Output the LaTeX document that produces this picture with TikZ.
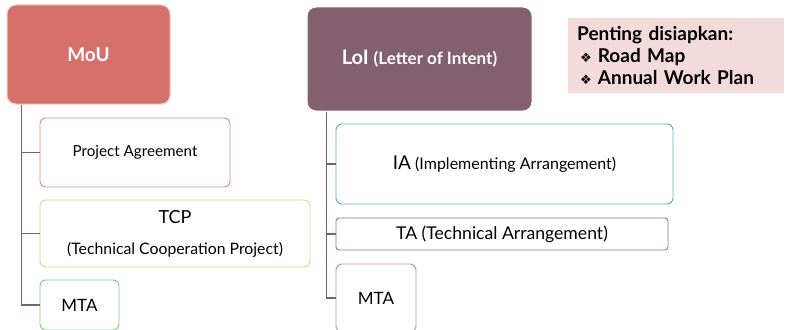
\documentclass[tikz,border=0pt]{standalone}
\usepackage{fontspec}
\setmainfont{Lato}
\newfontfamily\symfont{DejaVu Sans}
\begin{document}
\begin{tikzpicture}[x=1pt,y=-1pt,
  box/.style={draw, rounded corners=6pt, line width=0.9pt, fill=white, inner sep=0pt, align=center},
  head/.style={rounded corners=9pt, inner sep=0pt, align=center, text=white, font=\bfseries},
  conn/.style={draw=linec, line width=1.3pt}]
\definecolor{mouc}{HTML}{D5706A}
\definecolor{mouedge}{HTML}{F0C8C4}
\definecolor{loic}{HTML}{82606F}
\definecolor{linec}{HTML}{7E5E6E}
\definecolor{pac}{HTML}{E08A88}
\definecolor{tcpc}{HTML}{C9DA80}
\definecolor{mtaone}{HTML}{7FCC84}
\definecolor{iac}{HTML}{5EAABB}
\definecolor{tac}{HTML}{8A74AC}
\definecolor{mtatwo}{HTML}{B496AC}
\definecolor{notec}{HTML}{F3DBDB}
\useasboundingbox (0,0) rectangle (789,329);
\clip (0,0) rectangle (789,329);
% heads
\node[head, fill=mouc, draw=mouedge, line width=1pt, minimum width=163pt, minimum height=99pt, font=\bfseries\fontsize{19}{22}\selectfont] (mou) at (88.5,54.5) {MoU};
\node[head, fill=loic, draw=white, line width=1pt, minimum width=225pt, minimum height=104pt, font=\bfseries\fontsize{20}{22}\selectfont] (loi) at (419.5,59) {LoI {\fontsize{17}{20}\selectfont (Letter of Intent)}};
% left children
\node[box, draw=pac, minimum width=190pt, minimum height=69pt, font=\fontsize{15.2}{18}\selectfont] (pa) at (135,152.5) {Project Agreement};
\node[box, draw=tcpc, minimum width=270pt, minimum height=67pt, font=\fontsize{15.8}{31}\selectfont] (tcp) at (175,233.5) {{\fontsize{18}{20}\selectfont TCP}\\(Technical Cooperation Project)};
\node[box, draw=mtaone, minimum width=79pt, minimum height=50pt, font=\fontsize{17}{20}\selectfont] (mtal) at (79.5,305) {MTA};
% right children
\node[box, draw=iac, minimum width=337pt, minimum height=80pt, font=\fontsize{16}{18}\selectfont] (ia) at (504.5,164) {{\fontsize{19}{22}\selectfont IA} (Implementing Arrangement)};
\node[box, draw=tac, rounded corners=3pt, minimum width=332pt, minimum height=32pt, font=\fontsize{17.6}{20}\selectfont] (ta) at (502,234) {TA (Technical Arrangement)};
\node[box, draw=mtatwo, minimum width=80pt, minimum height=68pt, font=\fontsize{17}{20}\selectfont] (mtar) at (376,298) {MTA};
% note
\node[fill=notec, minimum width=216pt, minimum height=75pt, inner ysep=0pt, inner xsep=9pt, anchor=north west, text width=198pt, align=left, font=\bfseries\fontsize{19}{23}\selectfont] (note) at (568,18) {Penting disiapkan:\\[-1pt]\hspace*{3pt}{\symfont\fontsize{13}{14}\selectfont ❖}\hspace{6pt}Road Map\\[-1pt]\hspace*{3pt}{\symfont\fontsize{13}{14}\selectfont ❖}\hspace{6pt}Annual Work Plan};
% connectors
\coordinate (ml) at ([xshift=15pt]mou.south west);
\coordinate (lr) at ([xshift=20pt]loi.south west);
\draw[conn] (ml) |- (pa.west);
\draw[conn] (ml) |- (tcp.west);
\draw[conn] (ml) |- (mtal.west);
\draw[conn] (lr) |- (ia.west);
\draw[conn] (lr) |- (ta.west);
\draw[conn] (lr) |- (mtar.west);
\end{tikzpicture}
\end{document}
